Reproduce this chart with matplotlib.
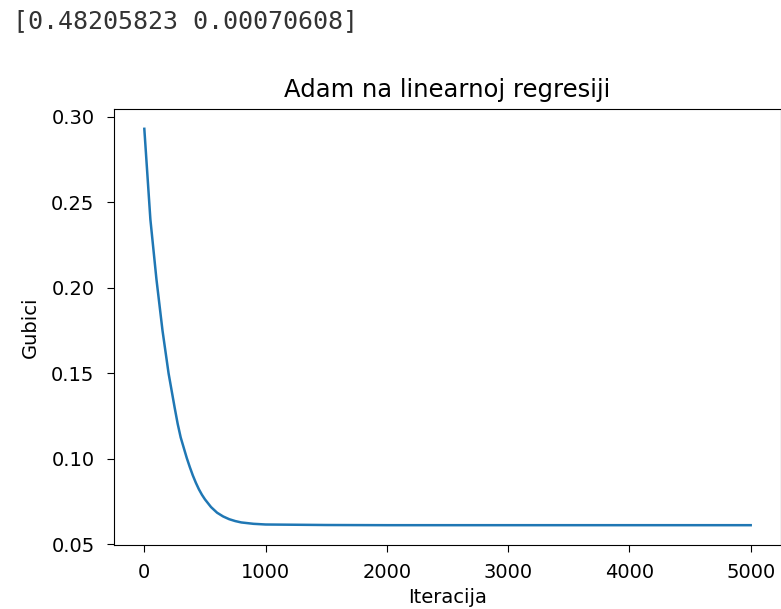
import numpy as np
import matplotlib
matplotlib.use("Agg")
import matplotlib.pyplot as plt

# values
iteracije = [0, 50, 100, 150, 200, 250, 275, 300, 325, 350, 375, 400, 425, 450,
             475, 500, 550, 600, 650, 700, 750, 800, 900, 1000, 1500, 2000, 3000,
             4000, 5000]
gubici = [0.293, 0.240, 0.205, 0.175, 0.150, 0.130, 0.1205, 0.1125, 0.1065, 0.1005,
          0.0952, 0.0903, 0.0860, 0.0822, 0.0790, 0.0763, 0.0718, 0.0685, 0.0663,
          0.0647, 0.0636, 0.0628, 0.0620, 0.0616, 0.0613, 0.0612, 0.0612, 0.0612,
          0.0612]
tezine = "[0.48205823 0.00070608]"

fig = plt.figure(figsize=(7.81, 6.09), dpi=100)
fig.text(13 / 781, 1 - 21 / 609, tezine, family="DejaVu Sans Mono", fontsize=18,
         color="#333333", va="center", ha="left")

ax = fig.add_axes([114 / 781, 64 / 609, 667 / 781, 436 / 609])
ax.plot(iteracije, gubici, color="#1f77b4", linewidth=1.8)
ax.set_title("Adam na linearnoj regresiji", fontsize=17.5, pad=9)
ax.set_xlabel("Iteracija", fontsize=14, labelpad=4)
ax.set_ylabel("Gubici", fontsize=14, labelpad=8)
ax.set_xticks([0, 1000, 2000, 3000, 4000, 5000])
ax.set_yticks([0.05, 0.10, 0.15, 0.20, 0.25, 0.30])
ax.tick_params(labelsize=14, length=5)
ax.tick_params(axis="y", pad=9)
ax.tick_params(axis="x", pad=8)

fig.savefig("out.png", dpi=100)
